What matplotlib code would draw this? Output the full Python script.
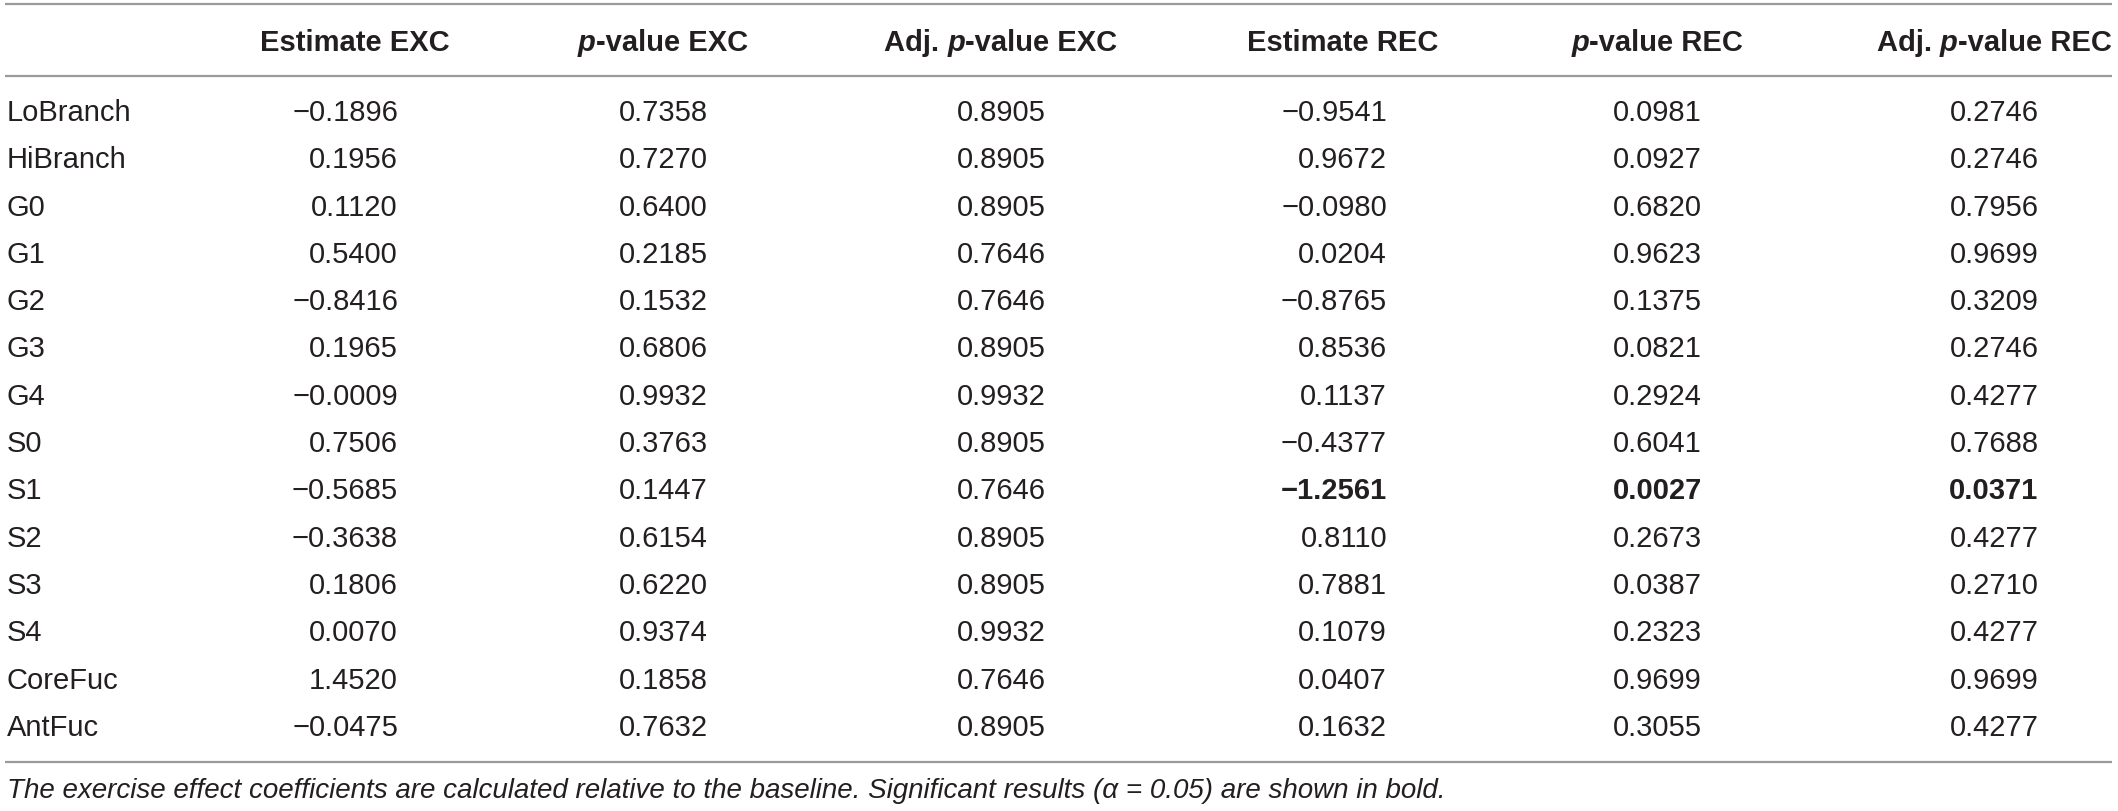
import matplotlib
matplotlib.use("Agg")
import matplotlib.pyplot as plt

plt.rcParams['font.family'] = ['Liberation Sans', 'DejaVu Sans']

# table data
row_labels = ["LoBranch", "HiBranch", "G0", "G1", "G2", "G3", "G4",
              "S0", "S1", "S2", "S3", "S4", "CoreFuc", "AntFuc"]
est_exc = [-0.1896, 0.1956, 0.1120, 0.5400, -0.8416, 0.1965, -0.0009,
           0.7506, -0.5685, -0.3638, 0.1806, 0.0070, 1.4520, -0.0475]
p_exc = [0.7358, 0.7270, 0.6400, 0.2185, 0.1532, 0.6806, 0.9932,
         0.3763, 0.1447, 0.6154, 0.6220, 0.9374, 0.1858, 0.7632]
adj_exc = [0.8905, 0.8905, 0.8905, 0.7646, 0.7646, 0.8905, 0.9932,
           0.8905, 0.7646, 0.8905, 0.8905, 0.9932, 0.7646, 0.8905]
est_rec = [-0.9541, 0.9672, -0.0980, 0.0204, -0.8765, 0.8536, 0.1137,
           -0.4377, -1.2561, 0.8110, 0.7881, 0.1079, 0.0407, 0.1632]
p_rec = [0.0981, 0.0927, 0.6820, 0.9623, 0.1375, 0.0821, 0.2924,
         0.6041, 0.0027, 0.2673, 0.0387, 0.2323, 0.9699, 0.3055]
adj_rec = [0.2746, 0.2746, 0.7956, 0.9699, 0.3209, 0.2746, 0.4277,
           0.7688, 0.0371, 0.4277, 0.2710, 0.4277, 0.9699, 0.4277]
alpha = 0.05

footnote = ("The exercise effect coefficients are calculated relative to the baseline. "
            "Significant results (\u03b1 = 0.05) are shown in bold.")

W, H = 2118, 812
FS = 21
TXT = "#231f20"
RULE = "#9a9a9a"


def fmt(v):
    return f"{v:.4f}".replace("-", "\u2212")


def header(ax, renderer, xc, y, parts):
    # parts: list of (text, italic) drawn bold, centred on xc as a whole
    items = []
    for s, it in parts:
        t = ax.text(0, y, s, fontsize=FS, fontweight="bold",
                    fontstyle="italic" if it else "normal",
                    color=TXT, va="center", ha="left")
        items.append(t)
    widths = [t.get_window_extent(renderer).width for t in items]
    x = xc - sum(widths) / 2
    for t, w in zip(items, widths):
        t.set_x(x)
        x += w


fig = plt.figure(figsize=(W / 100, H / 100), dpi=100)
ax = fig.add_axes([0, 0, 1, 1])
ax.set_xlim(0, W)
ax.set_ylim(H, 0)
ax.axis("off")
renderer = fig.canvas.get_renderer()

# rules
for yl in (5, 77, 763):
    ax.plot([5, 2112], [yl, yl], color=RULE, lw=1.6, solid_capstyle="butt")

hy = 43
header(ax, renderer, 355, hy, [("Estimate EXC", False)])
header(ax, renderer, 663, hy, [("p", True), ("-value EXC", False)])
header(ax, renderer, 1001, hy, [("Adj. ", False), ("p", True), ("-value EXC", False)])
header(ax, renderer, 1343, hy, [("Estimate REC", False)])
header(ax, renderer, 1657, hy, [("p", True), ("-value REC", False)])
header(ax, renderer, 1994, hy, [("Adj. ", False), ("p", True), ("-value REC", False)])

y0, pitch = 113, 47.3
for i, lab in enumerate(row_labels):
    y = y0 + i * pitch
    ax.text(7, y, lab, fontsize=FS, color=TXT, va="center", ha="left")

    w_exc = "bold" if adj_exc[i] < alpha else "normal"
    w_rec = "bold" if adj_rec[i] < alpha else "normal"

    ax.text(398, y, fmt(est_exc[i]), fontsize=FS, color=TXT, va="center", ha="right", fontweight=w_exc)
    ax.text(663, y, fmt(p_exc[i]), fontsize=FS, color=TXT, va="center", ha="center", fontweight=w_exc)
    ax.text(1001, y, fmt(adj_exc[i]), fontsize=FS, color=TXT, va="center", ha="center", fontweight=w_exc)
    ax.text(1387, y, fmt(est_rec[i]), fontsize=FS, color=TXT, va="center", ha="right", fontweight=w_rec)
    ax.text(1657, y, fmt(p_rec[i]), fontsize=FS, color=TXT, va="center", ha="center", fontweight=w_rec)
    ax.text(1994, y, fmt(adj_rec[i]), fontsize=FS, color=TXT, va="center", ha="center", fontweight=w_rec)

ax.text(7, 791, footnote, fontsize=20, fontstyle="italic", color=TXT, va="center", ha="left")

fig.savefig("out.png", dpi=100)
